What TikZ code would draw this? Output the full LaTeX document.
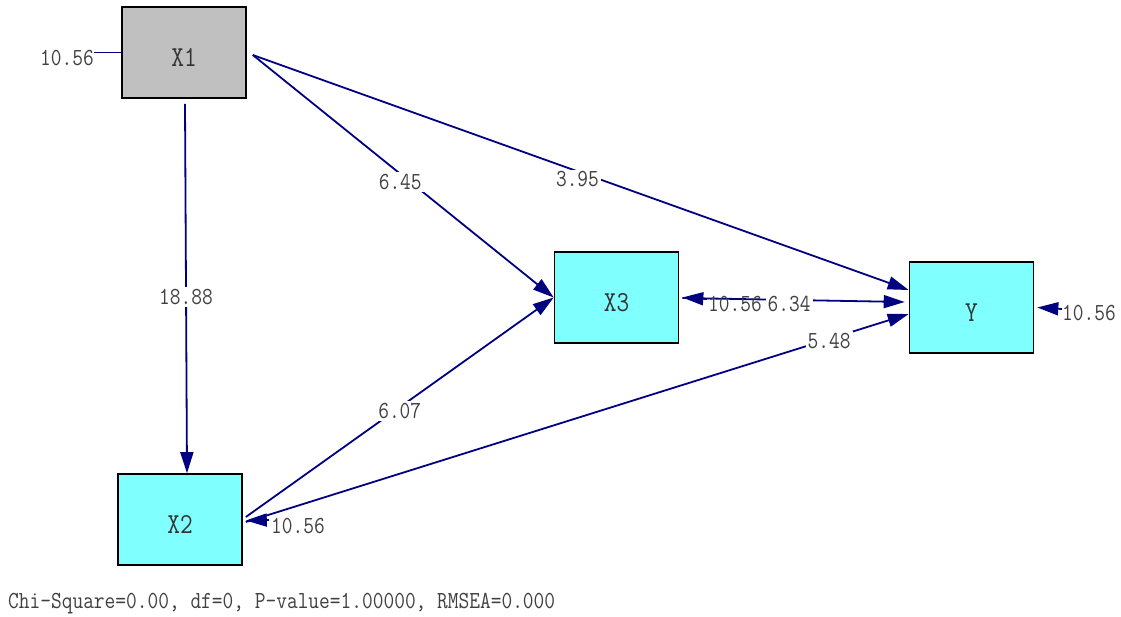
\documentclass[tikz,border=0pt]{standalone}
\usepackage{fontspec}
\newfontfamily\lisfont[FakeStretch=0.85]{Latin Modern Mono}
\usetikzlibrary{arrows.meta,calc}
\definecolor{lisnavy}{RGB}{0,0,128}
\definecolor{liscyan}{RGB}{128,255,255}
\definecolor{lisgray}{RGB}{192,192,192}
\tikzset{
	varbox/.style={draw=black, line width=1.6pt, minimum width=124pt, minimum height=91pt, inner sep=0pt, text height=27pt, text depth=0pt, font=\lisfont\fontsize{29}{29}\selectfont, text=black!80},
	pathline/.style={draw=lisnavy, line width=1.8pt, -{Triangle[length=21pt,width=13pt]}},
	coef/.style={fill=white, inner sep=2pt, font=\lisfont\fontsize{24.5}{25}\selectfont, text=black!75},
	errlab/.style={inner sep=0pt, font=\lisfont\fontsize{24.5}{25}\selectfont, text=black!75},
}
\begin{document}
\begin{tikzpicture}[x=1pt, y=-1pt]
		\useasboundingbox (0,0) rectangle (1121,616);
		\node[varbox, fill=lisgray] (x1) at (184,52.5) {X1};
		\node[varbox, fill=liscyan] (x2) at (180,519.5) {X2};
		\node[varbox, fill=liscyan] (x3) at (616.5,297.5) {X3};
		\node[varbox, fill=liscyan] (y) at (971.5,307.5) {Y};
		\draw[pathline] ($(x1.south)+(1,5)$) -- node[coef, pos=0.52, yshift=-1pt] (c12) {18.88} ($(x2.north)+(7,0)$);
		\draw[pathline] ($(x1.east)+(6,2.5)$) -- node[coef, pos=0.49, yshift=-8pt] (c13) {6.45} (x3.west);
		\draw[pathline] ($(x1.east)+(6,2.5)$) -- node[coef, pos=0.495, yshift=-8pt] (c1y) {3.95} ($(y.west)+(0,-17.5)$);
		\draw[pathline] ($(x2.east)+(3,-2.5)$) -- node[coef, pos=0.5, yshift=-4pt] (c23) {6.07} (x3.west);
		\draw[pathline] ($(x2.east)+(3,2.5)$) -- node[coef, pos=0.88, yshift=-2pt] (c2y) {5.48} ($(y.west)+(0,6.5)$);
		\draw[pathline] ($(x3.east)+(3,0.5)$) -- node[coef, pos=0.48, yshift=-4pt] (c3y) {6.34} ($(y.west)+(-4,-5.5)$);
		\node[errlab] (e1) at (67,58) {10.56};
		\draw[draw=lisnavy, line width=1.8pt] (e1.east |- x1.west) -- (x1.west);
		\node[errlab] (e2) at (298,526) {10.56};
		\draw[pathline] ($(e2.west)+(-2,-6)$) -- ($(x2.east)+(3,1)$);
		\node[errlab] (e3) at (735,304) {10.56};
		\draw[pathline] ($(e3.west)+(-1,-5)$) -- ($(x3.east)+(3,0)$);
		\node[errlab] (e4) at (1089,313) {10.56};
		\draw[pathline] ($(e4.west)+(0,-4)$) -- ($(y.east)+(3,0)$);
		\node[errlab, anchor=west] (fit) at (8,604) {Chi-Square=0.00, df=0, P-value=1.00000, RMSEA=0.000};
	\end{tikzpicture}
\end{document}
